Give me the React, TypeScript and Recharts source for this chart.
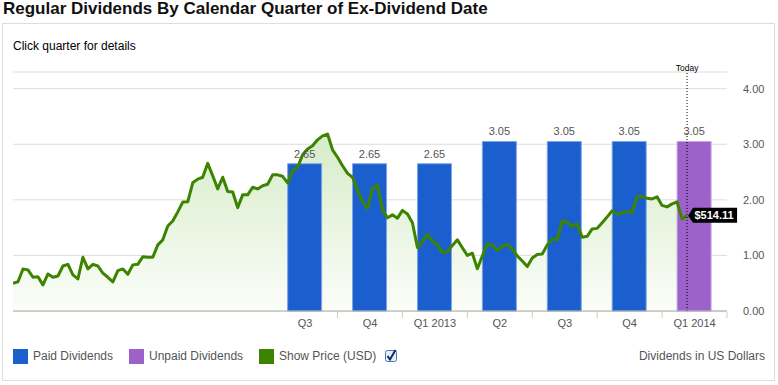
import React from "react";
import {
  ComposedChart,
  Bar,
  Area,
  Line,
  XAxis,
  YAxis,
  CartesianGrid,
  ReferenceLine,
  ReferenceDot,
  LabelList,
} from "recharts";

// ---- data ----
const quarterKeys = ["2011Q3", "2011Q4", "2012Q1", "2012Q2", "2012Q3", "2012Q4", "2013Q1", "2013Q2", "2013Q3", "2013Q4", "2014Q1"];
const tickLabels = ["", "", "", "", "Q3", "Q4", "Q1 2013", "Q2", "Q3", "Q4", "Q1 2014"];
const paidDividends = [null, null, null, null, 2.65, 2.65, 2.65, 3.05, 3.05, 3.05, null];
const unpaidDividends = [null, null, null, null, null, null, null, null, null, null, 3.05];
const yTicks = [0, 1, 2, 3, 4];

// weekly share price (USD)
const weeklyPrice = [
  150, 158, 227, 222, 182, 185, 141, 200, 182, 189,
  243, 252, 195, 173, 290, 227, 252, 243, 204, 182,
  157, 218, 227, 198, 249, 252, 293, 290, 290, 357,
  384, 459, 486, 535, 588, 589, 692, 712, 722, 797,
  730, 659, 722, 645, 642, 558, 627, 627, 668, 659,
  676, 684, 735, 735, 727, 692, 757, 776, 843, 874,
  892, 924, 945, 955, 870, 830, 784, 743, 722, 654,
  589, 554, 662, 678, 546, 503, 519, 501, 543, 524,
  476, 343, 376, 413, 378, 357, 315, 319, 354, 384,
  341, 300, 312, 228, 297, 362, 357, 327, 351, 359,
  335, 297, 270, 240, 286, 305, 308, 357, 389, 384,
  486, 478, 457, 470, 398, 403, 443, 446, 476, 508,
  541, 524, 530, 538, 532, 616, 619, 608, 605, 616,
  570, 562, 578, 589, 497, 514.11,
];
const WEEKS_PER_QUARTER = 13;
const todayWeek = 135;
const lastPrice = 514.11;

const barData = quarterKeys.map((q, i) => ({
  quarter: q,
  paid: paidDividends[i],
  unpaid: unpaidDividends[i],
}));
const priceData = weeklyPrice.map((p, i) => ({ week: i, price: p }));

// ---- layout / styles ----
const W = 778;
const H = 385;
const MARGIN = { top: 72, right: 0, bottom: 44, left: 13 };
const Y_AXIS_W = 51;
const PLOT_W = W - MARGIN.left - MARGIN.right - Y_AXIS_W;
const BAND = PLOT_W / quarterKeys.length;
const FONT = "'Liberation Sans', Arial, Helvetica, sans-serif";
const TEXT_GRAY = "#555";
const BLUE = "#1b5fce";
const PURPLE = "#9d62c9";
const GREEN = "#3c8400";

const QuarterTick = (props: any) => {
  const { x, y, payload } = props;
  const idx = quarterKeys.indexOf(payload.value);
  const label = tickLabels[idx];
  if (!label) return null;
  const axisY = y - 8;
  return (
    <g>
      <line x1={x + BAND / 2} x2={x + BAND / 2} y1={axisY + 1} y2={axisY + 7} stroke="#ccc" strokeWidth={1} />
      <text x={x} y={y} dy="0.71em" textAnchor="middle" fill={TEXT_GRAY} fontSize={11} fontFamily={FONT}>
        {label}
      </text>
    </g>
  );
};

const PriceFlag = (props: any) => {
  const { cx, cy } = props;
  if (cx == null || cy == null) return null;
  const tip = cx + 1;
  const left = cx + 6;
  const right = cx + 50;
  const top = cy - 8;
  const bottom = cy + 7;
  return (
    <g>
      <path
        d={`M${tip},${cy} L${left},${top} L${right},${top} L${right},${bottom} L${left},${bottom} Z`}
        fill="#000"
      />
      <text x={(left + right) / 2 - 1} y={cy + 3.5} textAnchor="middle" fill="#fff" fontSize={11} fontWeight="bold" fontFamily={FONT}>
        ${lastPrice.toFixed(2)}
      </text>
    </g>
  );
};

const LegendItem = ({ color, label, x }: { color: string; label: string; x: number }) => (
  <div style={{ position: "absolute", left: x, top: 349, display: "flex", alignItems: "center" }}>
    <div style={{ width: 15, height: 15, background: color }} />
    <span style={{ marginLeft: 5, fontSize: 12, color: TEXT_GRAY, fontFamily: FONT, lineHeight: "15px" }}>{label}</span>
  </div>
);

export default function App() {
  return (
    <div style={{ position: "absolute", left: 0, top: 0, width: W, height: H, background: "#fff", fontFamily: FONT, overflow: "hidden" }}>
      <div style={{ position: "absolute", left: 2, top: 23, width: 773, height: 358, border: "1px solid #ddd", boxSizing: "border-box" }} />
      <div style={{ position: "absolute", left: 3, top: -1, fontSize: 17, fontWeight: "bold", color: "#111", whiteSpace: "nowrap", lineHeight: "20px" }}>
        Regular Dividends By Calendar Quarter of Ex-Dividend Date
      </div>
      <div style={{ position: "absolute", left: 13, top: 39, fontSize: 12, color: "#000", lineHeight: "15px" }}>
        Click quarter for details
      </div>

      <div style={{ position: "absolute", left: 0, top: 0 }}>
        <ComposedChart width={W} height={H} data={barData} margin={MARGIN}>
          <defs>
            <linearGradient id="priceFill" x1="0" y1="0" x2="0" y2="1">
              <stop offset="0%" stopColor="rgb(214,236,200)" stopOpacity={1} />
              <stop offset="100%" stopColor="rgb(251,253,249)" stopOpacity={1} />
            </linearGradient>
          </defs>
          <CartesianGrid xAxisId="q" yAxisId="d" vertical={false} stroke="#ddd" />
          <XAxis
            xAxisId="q"
            dataKey="quarter"
            type="category"
            height={30}
            interval={0}
            axisLine={{ stroke: "#aaa" }}
            tickLine={false}
            tickSize={6}
            tickMargin={2}
            tick={<QuarterTick />}
          />
          <XAxis xAxisId="t" type="number" dataKey="week" domain={[0, WEEKS_PER_QUARTER * quarterKeys.length]} hide allowDataOverflow />
          <YAxis
            yAxisId="d"
            orientation="right"
            width={Y_AXIS_W}
            domain={[0, 4.3]}
            ticks={yTicks}
            tickFormatter={(v: number) => v.toFixed(2)}
            axisLine={false}
            tickLine={false}
            tickSize={6}
            tickMargin={10}
            tick={{ fill: TEXT_GRAY, fontSize: 11, fontFamily: FONT }}
          />
          <YAxis yAxisId="price" domain={[0, 1290]} hide allowDataOverflow />

          <Area
            xAxisId="t"
            yAxisId="price"
            data={priceData}
            dataKey="price"
            type="linear"
            stroke="none"
            fill="url(#priceFill)"
            fillOpacity={1}
            isAnimationActive={false}
            dot={false}
            activeDot={false}
          />
          <Bar xAxisId="q" yAxisId="d" dataKey="paid" stackId="div" barSize={34} fill={BLUE} stroke="#7ea5e4" strokeWidth={1} isAnimationActive={false}>
            <LabelList dataKey="paid" position="top" offset={6} fill={TEXT_GRAY} fontSize={11} fontFamily={FONT} formatter={(v: any) => (v == null ? "" : Number(v).toFixed(2))} />
          </Bar>
          <Bar xAxisId="q" yAxisId="d" dataKey="unpaid" stackId="div" barSize={34} fill={PURPLE} stroke="#c6a3e2" strokeWidth={1} isAnimationActive={false}>
            <LabelList dataKey="unpaid" position="top" offset={6} fill={TEXT_GRAY} fontSize={11} fontFamily={FONT} formatter={(v: any) => (v == null ? "" : Number(v).toFixed(2))} />
          </Bar>
          <Line
            xAxisId="t"
            yAxisId="price"
            data={priceData}
            dataKey="price"
            type="linear"
            stroke={GREEN}
            strokeWidth={3}
            strokeLinejoin="round"
            dot={false}
            activeDot={false}
            isAnimationActive={false}
          />
          <ReferenceLine
            xAxisId="t"
            yAxisId="d"
            x={todayWeek}
            stroke="#000"
            strokeWidth={1}
            strokeDasharray="1 2"
            label={{ value: "Today", position: "top", offset: 1, fontSize: 8.5, fill: "#000", fontFamily: FONT }}
          />
          <ReferenceDot xAxisId="t" yAxisId="price" x={todayWeek} y={lastPrice} r={0} shape={<PriceFlag />} />
        </ComposedChart>
      </div>

      <LegendItem color={BLUE} label="Paid Dividends" x={13} />
      <LegendItem color={PURPLE} label="Unpaid Dividends" x={129} />
      <LegendItem color={GREEN} label="Show Price (USD)" x={259} />
      <svg style={{ position: "absolute", left: 385, top: 349 }} width={12} height={14}>
        <rect x={0.5} y={1.5} width={11} height={11} rx={2} fill="#e6effa" stroke="#4f77b3" />
        <path d="M2.5,7 L5,10.5 L10.5,1" stroke="#0d2a66" strokeWidth={2} fill="none" />
      </svg>
      <div style={{ position: "absolute", right: 13, top: 349, fontSize: 12, color: TEXT_GRAY, lineHeight: "15px" }}>
        Dividends in US Dollars
      </div>
    </div>
  );
}
